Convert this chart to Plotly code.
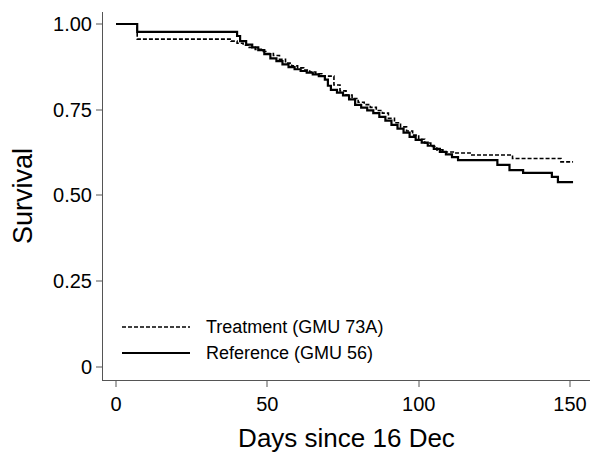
import plotly.graph_objects as go

# Treatment (GMU 73A) Kaplan-Meier steps
trt_days = [0, 7, 38, 40, 42, 44, 46, 48, 50, 52, 54, 56, 58, 60, 62, 64, 66, 68, 72, 74, 76, 78,
            80, 82, 84, 86, 88, 90, 92, 94, 96, 98, 100, 102, 104, 106, 108, 112, 117, 131, 147, 151]
trt_surv = [1.000, 0.956, 0.950, 0.944, 0.938, 0.932, 0.926, 0.920, 0.914, 0.908, 0.897, 0.886,
            0.878, 0.872, 0.866, 0.860, 0.855, 0.848, 0.822, 0.805, 0.793, 0.783, 0.772, 0.765,
            0.757, 0.748, 0.740, 0.725, 0.712, 0.700, 0.688, 0.676, 0.664, 0.653, 0.643, 0.633,
            0.627, 0.624, 0.618, 0.608, 0.598, 0.598]

# Reference (GMU 56) Kaplan-Meier steps
ref_days = [0, 7, 40, 41, 43, 45, 47, 49, 51, 53, 55, 57, 59, 61, 63, 65, 67, 69, 70, 71, 73, 75,
            77, 79, 81, 83, 85, 87, 89, 91, 93, 95, 97, 99, 101, 103, 105, 107, 109, 111, 113,
            126, 130, 134.5, 144, 146, 151]
ref_surv = [1.000, 0.977, 0.965, 0.950, 0.940, 0.932, 0.924, 0.912, 0.900, 0.892, 0.882, 0.874,
            0.868, 0.863, 0.858, 0.853, 0.848, 0.838, 0.820, 0.808, 0.800, 0.792, 0.780, 0.764,
            0.756, 0.748, 0.740, 0.729, 0.718, 0.706, 0.695, 0.683, 0.671, 0.662, 0.654, 0.645,
            0.636, 0.627, 0.620, 0.612, 0.603, 0.589, 0.574, 0.566, 0.554, 0.539, 0.539]

y_ticks = [0, 0.25, 0.5, 0.75, 1.0]
y_ticklabels = ["0", "0.25", "0.50", "0.75", "1.00"]
x_ticks = [0, 50, 100, 150]

series_names = ["Treatment (GMU 73A)", "Reference (GMU 56)"]

FONT = "Liberation Sans, Arial, sans-serif"

fig = go.Figure()
fig.add_trace(go.Scatter(x=trt_days, y=trt_surv, mode="lines", line_shape="hv",
                         line=dict(color="black", width=1.6, dash="4px,2px"),
                         name=series_names[0], showlegend=False))
fig.add_trace(go.Scatter(x=ref_days, y=ref_surv, mode="lines", line_shape="hv",
                         line=dict(color="black", width=2.2),
                         name=series_names[1], showlegend=False))

L, R, T, B = 103, 0, 12, 74
W, H = 590, 454
pw, ph = W - L - R, H - T - B

def px(xp):
    return (xp - L) / pw

def py(yp):
    return (H - B - yp) / ph

# manual legend (Stata style, inside plot)
for i, (yy, dash, wid) in enumerate([(327, "4px,2px", 1.6), (353, "solid", 2.2)]):
    fig.add_shape(type="line", xref="paper", yref="paper",
                  x0=px(122), x1=px(190), y0=py(yy), y1=py(yy),
                  line=dict(color="black", width=wid, dash=dash))
    fig.add_annotation(xref="paper", yref="paper", x=px(204), y=py(yy),
                       text=series_names[i], showarrow=False, xanchor="left", yanchor="middle",
                       font=dict(family=FONT, size=18, color="black"))

fig.update_layout(
    width=W, height=H,
    margin=dict(l=L, r=R, t=T, b=B),
    paper_bgcolor="white", plot_bgcolor="white",
    font=dict(family=FONT, color="black"),
    xaxis=dict(range=[-4.3, 156.6], tickvals=x_ticks, ticks="outside", ticklen=6,
               tickcolor="#aaaaaa", tickwidth=1.5, showline=True, linecolor="#555555", linewidth=1,
               showgrid=False, zeroline=False, tickfont=dict(size=20, family=FONT),
               title=dict(text="Days since 16 Dec", font=dict(size=26, family=FONT), standoff=14)),
    yaxis=dict(range=[-0.038, 1.035], tickvals=y_ticks, ticktext=y_ticklabels, ticks="outside",
               ticklen=6, tickcolor="#aaaaaa", tickwidth=1.5, showline=True, linecolor="#555555",
               linewidth=1, showgrid=False, zeroline=False, tickfont=dict(size=20, family=FONT),
               title=dict(text="Survival", font=dict(size=27, family=FONT), standoff=12)),
)

fig.write_html("out.html", config={"displayModeBar": False},
               post_script="document.body.style.margin='0';document.body.style.overflow='hidden';")
